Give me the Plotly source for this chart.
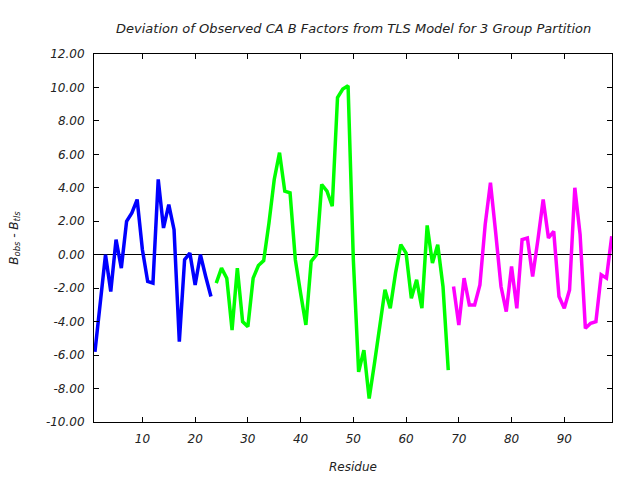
import plotly.graph_objects as go

# Residue numbers and deviations (B_obs - B_tls) per TLS group
res_g1 = list(range(1, 24))
dev_g1 = [-5.8, -3.0, 0.0, -2.2, 0.9, -0.8, 2.0, 2.5, 3.3, 0.3,
          -1.6, -1.7, 4.5, 1.6, 3.0, 1.5, -5.2, -0.3, 0.1, -1.8,
          0.0, -1.3, -2.5]

res_g2 = list(range(24, 69))
dev_g2 = [-1.7, -0.8, -1.4, -4.5, -0.8, -4.0, -4.3, -1.4, -0.65, -0.35,
          1.9, 4.5, 6.1, 3.8, 3.7, -0.3, -2.3, -4.2, -0.4, 0.0,
          4.2, 3.8, 2.9, 9.4, 9.9, 10.1, -0.3, -7.0, -5.7, -8.6,
          -6.5, -4.3, -2.1, -3.2, -1.1, 0.6, 0.1, -2.6, -1.5, -3.2,
          1.75, -0.5, 0.6, -1.9, -6.9]

res_g3 = list(range(69, 100))
dev_g3 = [-1.9, -4.2, -1.4, -3.0, -3.0, -1.8, 1.8, 4.3, 1.3, -1.9,
          -3.4, -0.7, -3.2, 0.9, 1.0, -1.3, 0.9, 3.3, 1.0, 1.4,
          -2.5, -3.2, -2.1, 4.0, 1.2, -4.4, -4.1, -4.0, -1.2, -1.4,
          1.1]

colors = ["#0000ff", "#00ff00", "#ff00ff"]
x_ticks = list(range(10, 100, 10))
y_ticks = list(range(-10, 13, 2))

fig = go.Figure()
for xs, ys, c in [(res_g1, dev_g1, colors[0]),
                  (res_g2, dev_g2, colors[1]),
                  (res_g3, dev_g3, colors[2])]:
    fig.add_trace(go.Scatter(x=xs, y=ys, mode="lines",
                             line=dict(color=c, width=3.5),
                             showlegend=False, hoverinfo="skip"))

font = dict(family="DejaVu Sans", size=12, color="#222222", style="italic")

fig.update_layout(
    width=640, height=480,
    margin=dict(l=94, r=28, t=54, b=58, autoexpand=False),
    paper_bgcolor="white", plot_bgcolor="white",
    font=font,
    showlegend=False,
    xaxis=dict(range=[0.82, 99.05], tickmode="array", tickvals=x_ticks,
               ticktext=[str(v) for v in x_ticks],
               ticks="inside", ticklen=5, tickcolor="black",
               ticklabelstandoff=6,
               showline=True, linecolor="black", linewidth=1, mirror="ticks",
               showgrid=False, zeroline=False, tickfont=font),
    yaxis=dict(range=[-10, 12], tickmode="array", tickvals=y_ticks,
               ticktext=["%.2f" % v for v in y_ticks],
               ticks="inside", ticklen=5, tickcolor="black",
               ticklabelstandoff=6,
               showline=True, linecolor="black", linewidth=1, mirror="ticks",
               showgrid=False, zeroline=True, zerolinecolor="black",
               zerolinewidth=1, tickfont=font),
    annotations=[
        dict(text="Deviation of Observed CA B Factors from TLS Model for 3 Group Partition",
             xref="paper", yref="paper", x=0.5, y=1 + (54 - 28) / 368.0,
             xanchor="center", yanchor="middle", showarrow=False,
             font=dict(family="DejaVu Sans", size=13, color="#222222", style="italic")),
        dict(text="Residue", xref="paper", yref="paper", x=0.5,
             y=-(467 - 422.3) / 368.0, xanchor="center", yanchor="middle",
             showarrow=False, font=font),
        dict(text="B<sub>obs</sub> - B<sub>tls</sub>", xref="paper", yref="paper",
             x=-(94.3 - 15) / 517.7, y=0.5, xanchor="center", yanchor="middle",
             textangle=-90, showarrow=False, font=font),
    ],
)

fig.write_html("out.html")
